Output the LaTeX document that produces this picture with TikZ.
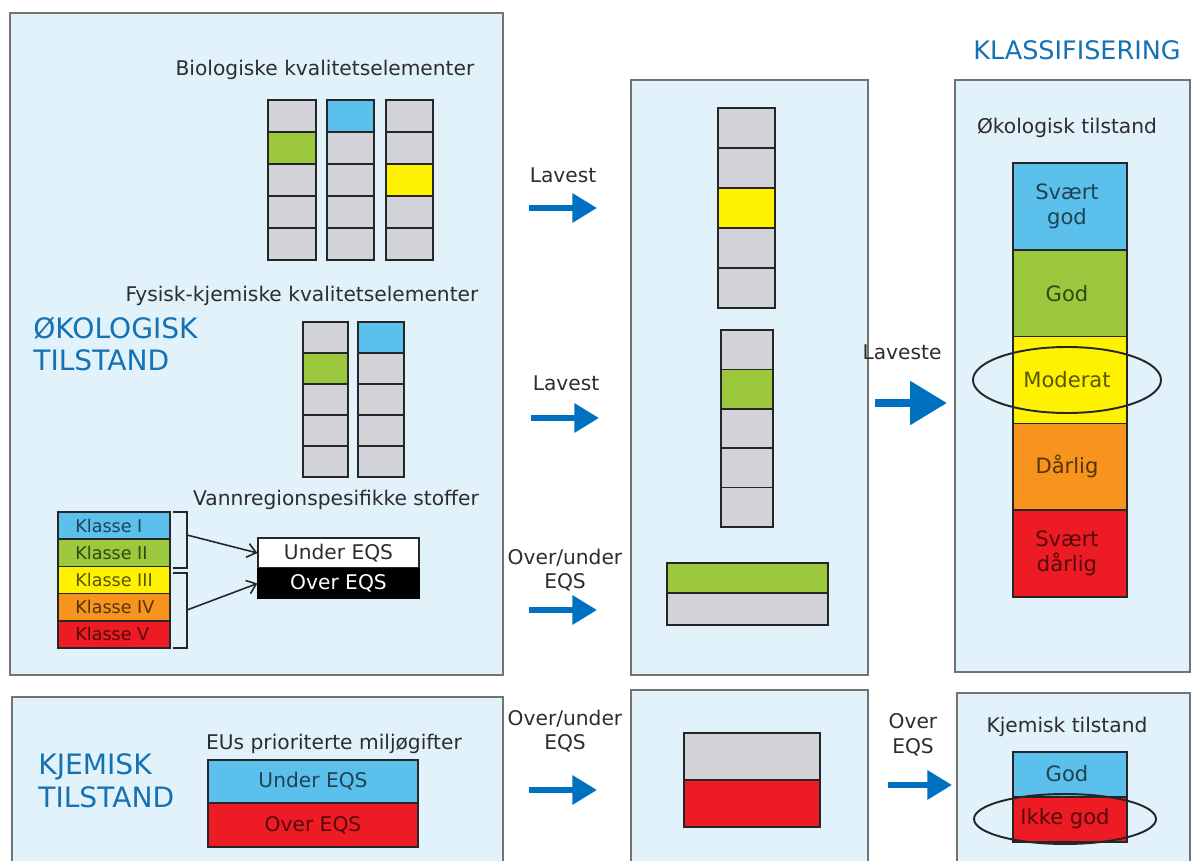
\documentclass[tikz,border=0pt]{standalone}
\usepackage{fontspec}
\setmainfont{DejaVu Sans}
\usetikzlibrary{arrows.meta}

\definecolor{boxfill}{RGB}{225,242,251}
\definecolor{cellgray}{RGB}{209,211,216}
\definecolor{cellblue}{RGB}{91,192,235}
\definecolor{cellgreen}{RGB}{155,200,61}
\definecolor{cellyellow}{RGB}{255,242,0}
\definecolor{cellorange}{RGB}{247,148,29}
\definecolor{cellred}{RGB}{237,28,36}
\definecolor{headblue}{RGB}{20,114,180}
\definecolor{arrowblue}{RGB}{0,112,192}
\definecolor{textgray}{RGB}{45,45,45}

\begin{document}
\begin{tikzpicture}[x=0.02cm, y=-0.02cm,
	panel/.style={draw=black!55, fill=boxfill, line width=1pt},
	cell/.style={draw=black!85, line width=1pt},
	lbl/.style={text=textgray, font=\fontsize{11.5}{14}\selectfont, inner sep=0, align=center},
	klasse/.style={text=textgray, font=\fontsize{10}{12}\selectfont, inner sep=0, anchor=west},
	grade/.style={text=textgray, font=\fontsize{12}{14}\selectfont, inner sep=0, align=center},
	heading/.style={text=headblue, font=\fontsize{16}{18.5}\selectfont, inner sep=0, align=left},
	fat/.style={arrowblue, line width=3.3pt, -{Triangle[length=14pt, width=16pt]}},
	pointer/.style={black!85, line width=0.9pt, -{Straight Barb[length=5pt, width=8pt]}},
	ring/.style={draw=black!85, line width=1.1pt},
	]
	\clip (0,0) rectangle (1194,861);
	
	% Panels
	\draw[panel] (10,13) rectangle (503,675);
	\draw[panel] (631,80) rectangle (868,675);
	\draw[panel] (955,80) rectangle (1190,672);
	\draw[panel] (12,697) rectangle (503,880);
	\draw[panel] (631,690) rectangle (868,880);
	\draw[panel] (957,693) rectangle (1190,880);
	
	% Headings
	\node[heading] (oko) [anchor=west] at (33,344) {ØKOLOGISK\\TILSTAND};
	\node[heading] (kjem) [anchor=west] at (38,781) {KJEMISK\\TILSTAND};
	\node[heading, font=\fontsize{14.5}{17}\selectfont] (klass) at (1077,50) {KLASSIFISERING};
	
	% Labels
	\node[lbl] (bio) at (325,70) {Biologiske kvalitetselementer};
	\node[lbl] (fys) at (302,296) {Fysisk-kjemiske kvalitetselementer};
	\node[lbl] (vann) at (336,500) {Vannregionspesifikke stoffer};
	\node[lbl] (eus) at (334,744) {EUs prioriterte miljøgifter};
	\node[lbl] (okotil) at (1067,128) {Økologisk tilstand};
	\node[lbl] (kjetil) at (1067,727) {Kjemisk tilstand};
	
	% Element columns
	\foreach \xa/\xb/\ya/\h/\cols in {
		268/316/100/32/{cellgray,cellgreen,cellgray,cellgray,cellgray},
		327/374/100/32/{cellblue,cellgray,cellgray,cellgray,cellgray},
		386/433/100/32/{cellgray,cellgray,cellyellow,cellgray,cellgray},
		303/348/322/31/{cellgray,cellgreen,cellgray,cellgray,cellgray},
		358/404/322/31/{cellblue,cellgray,cellgray,cellgray,cellgray},
		718/775/108/40/{cellgray,cellgray,cellyellow,cellgray,cellgray},
		721/773/330/39.4/{cellgray,cellgreen,cellgray,cellgray,cellgray}}{
		\foreach [count=\i from 0] \c in \cols{
			\draw[cell, fill=\c] (\xa,{\ya+\i*\h}) rectangle (\xb,{\ya+(\i+1)*\h});
		}
	}
	
	% Over/under bars
	\draw[cell, fill=cellgreen] (667,563) rectangle (828,593);
	\draw[cell, fill=cellgray] (667,593) rectangle (828,625);
	\draw[cell, fill=cellgray] (684,733) rectangle (820,780);
	\draw[cell, fill=cellred] (684,780) rectangle (820,827);
	
	% Klasse I-V
	\foreach [count=\i from 0] \c/\t in {cellblue/I, cellgreen/II, cellyellow/III, cellorange/IV, cellred/V}{
		\draw[cell, fill=\c] (58,{512+\i*27.2}) rectangle (170,{539.2+\i*27.2});
		\node[klasse, text=\c!35!black] (kl\i) at (75,{525.6+\i*27.2}) {Klasse \t};
	}
	\draw[black!85, line width=0.9pt] (173,512) -- (187,512) -- (187,568) -- (173,568);
	\draw[black!85, line width=0.9pt] (173,573) -- (187,573) -- (187,648) -- (173,648);
	\node[lbl, draw=black!85, fill=white, line width=1pt, minimum width=91.3pt, minimum height=17pt]
	      (ueqs) at (338.5,553) {Under EQS};
	\node[lbl, draw=black, fill=black, text=white, line width=1pt, minimum width=91.3pt, minimum height=17pt]
	      (oeqs) at (338.5,583.5) {Over EQS};
	\coordinate (brA) at (187,535);
	\coordinate (brB) at (187,610);
	\draw[pointer] (brA) -- (ueqs.west);
	\draw[pointer] (brB) -- (oeqs.west);
	
	% EU substances
	\draw[cell, fill=cellblue] (208,760) rectangle (418,803);
	\draw[cell, fill=cellred] (208,803) rectangle (418,847);
	\node[lbl, text=cellblue!35!black] (eusu) at (313,781) {Under EQS};
	\node[lbl, text=cellred!35!black] (euso) at (313,825) {Over EQS};
	
	% Classification
	\foreach [count=\i from 0] \c/\t in {cellblue/{Svært\\god}, cellgreen/God, cellyellow/Moderat,
	                                     cellorange/Dårlig, cellred/{Svært\\dårlig}}{
		\draw[cell, fill=\c] (1013,{163+\i*86.8}) rectangle (1127,{249.8+\i*86.8});
		\node[grade, text=\c!35!black] (okl\i) at (1067,{206.4+\i*86.8}) {\t};
	}
	\draw[ring] (okl2) ellipse [x radius=94, y radius=33];
	
	\draw[cell, fill=cellblue] (1013,752) rectangle (1127,797);
	\draw[cell, fill=cellred] (1013,797) rectangle (1127,842);
	\node[grade, text=cellblue!35!black] (kgod) at (1067,774) {God};
	\node[grade, text=cellred!35!black] (kikke) at (1065,819) {Ikke god};
	\draw[ring] (kikke) ellipse [x radius=91, y radius=25];
	
	% Arrows
	\node[lbl] (lav1) at (563,175) {Lavest};
	\node[lbl] (lav2) at (566,383) {Lavest};
	\node[lbl] (ovun1) at (565,570) {Over/under\\EQS};
	\node[lbl] (ovun2) at (565,731) {Over/under\\EQS};
	\node[lbl] (lavst) at (902,352) {Laveste};
	\node[lbl] (over) at (913,735) {Over\\EQS};
	\foreach \n/\xa/\xb/\y in {a1/529/597/208, a2/531/599/418, a3/529/597/610, a4/529/597/790, a5/888/952/785}{
		\coordinate (\n s) at (\xa,\y);
		\coordinate (\n e) at (\xb,\y);
		\draw[fat] (\n s) -- (\n e);
	}
	\coordinate (a6s) at (875,403);
	\coordinate (a6e) at (947,403);
	\draw[fat, line width=4.5pt, -{Triangle[length=21pt, width=24pt]}] (a6s) -- (a6e);
\end{tikzpicture}
\end{document}
